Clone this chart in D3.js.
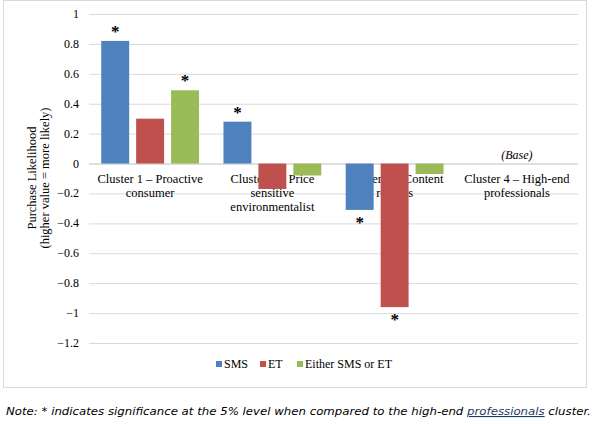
<!DOCTYPE html>
<html><head><meta charset="utf-8">
<script src="https://cdn.jsdelivr.net/npm/d3@7"></script>
<style>body{margin:0;background:#fff}</style></head>
<body><svg id="c" width="597" height="424"></svg>
<script>
const categories = [
  ["Cluster 1 \u2013 Proactive", "consumer"],
  ["Cluster 2 \u2013 Price", "sensitive", "environmentalist"],
  ["Cluster 3 \u2013 Content", "retirees"],
  ["Cluster 4 \u2013 High-end", "professionals"]
];
const seriesNames = ["SMS", "ET", "Either SMS or ET"];
const colors = ["#4f81bd", "#c0504d", "#9bbb59"];
const sms = [0.82, 0.28, -0.31, null];
const et = [0.30, -0.17, -0.96, null];
const either = [0.49, -0.08, -0.07, null];
const significant = [[true, false, true], [true, false, false], [true, true, false], [false, false, false]];
const yTicks = [1, 0.8, 0.6, 0.4, 0.2, 0, -0.2, -0.4, -0.6, -0.8, -1, -1.2];
const series = [sms, et, either];

const svg = d3.select("#c");
const font = "'Liberation Serif', serif";
svg.append("rect").attr("x", 3.5).attr("y", 0.5).attr("width", 583).attr("height", 387)
  .attr("fill", "#fff").attr("stroke", "#d9d9d9");

const y = d3.scaleLinear().domain([-1.2, 1]).range([343, 14]);
const x0 = d3.scaleBand().domain(d3.range(4)).range([89, 578]);
const x1 = d3.scaleBand().domain(d3.range(3)).range([0, x0.bandwidth()]).paddingInner(0.2).paddingOuter(0.35);

const g = svg.append("g");
g.selectAll("line.grid").data(yTicks).join("line")
  .attr("x1", 89).attr("x2", 578).attr("y1", d => y(d) + 0.5).attr("y2", d => y(d) + 0.5)
  .attr("stroke", d => d === 0 ? "#bfbfbf" : "#d9d9d9");
g.selectAll("text.yt").data(yTicks).join("text")
  .attr("x", 79).attr("y", d => y(d) + 4).attr("text-anchor", "end")
  .attr("font-family", font).attr("font-size", 12).text(d => d3.format("")(d).replace("-", "-"));

// category labels (behind bars)
categories.forEach((lines, i) => {
  const t = g.append("text").attr("font-family", font).attr("font-size", 12.5)
    .attr("text-anchor", "middle");
  lines.forEach((l, k) => t.append("tspan").attr("x", x0(i) + x0.bandwidth() / 2)
    .attr("y", y(0) + 19 + k * 14).text(l));
});

series.forEach((vals, s) => {
  vals.forEach((v, i) => {
    if (v === null) return;
    const bx = x0(i) + x1(s);
    g.append("rect").attr("x", bx).attr("width", x1.bandwidth())
      .attr("y", y(Math.max(0, v))).attr("height", Math.abs(y(v) - y(0)))
      .attr("fill", colors[s]);
    if (significant[i][s]) {
      g.append("text").attr("x", bx + x1.bandwidth() / 2)
        .attr("y", v > 0 ? y(v) - 4 : y(v) + 18)
        .attr("text-anchor", "middle").attr("font-family", font)
        .attr("font-size", 17).attr("font-weight", "bold").text("*");
    }
  });
});
g.append("text").attr("x", x0(3) + x0.bandwidth() / 2).attr("y", y(0) - 5)
  .attr("text-anchor", "middle").attr("font-family", font).attr("font-size", 12)
  .attr("font-style", "italic").text("(Base)");

const yl = svg.append("text").attr("transform", "translate(36,178) rotate(-90)")
  .attr("text-anchor", "middle").attr("font-family", font).attr("font-size", 12.5);
yl.append("tspan").attr("x", 0).attr("y", 0).text("Purchase Likelihood");
yl.append("tspan").attr("x", 0).attr("y", 13).text("(higher value = more likely)");

const legX = [216, 260, 297];
seriesNames.forEach((n, s) => {
  svg.append("rect").attr("x", legX[s]).attr("y", 361).attr("width", 6).attr("height", 6).attr("fill", colors[s]);
  svg.append("text").attr("x", legX[s] + 8).attr("y", 368).attr("font-family", font)
    .attr("font-size", 12).text(n);
});

const note = svg.append("text").attr("x", 6).attr("y", 415).attr("font-family", "'DejaVu Sans', sans-serif")
  .attr("font-size", 11).attr("font-style", "italic").attr("textLength", 585).attr("lengthAdjust", "spacingAndGlyphs");
note.append("tspan").text("Note: * indicates significance at the 5% level when compared to the high-end ");
note.append("tspan").attr("text-decoration", "underline").attr("fill", "#1f3864").text("professionals");
note.append("tspan").text(" cluster.");
</script></body></html>
